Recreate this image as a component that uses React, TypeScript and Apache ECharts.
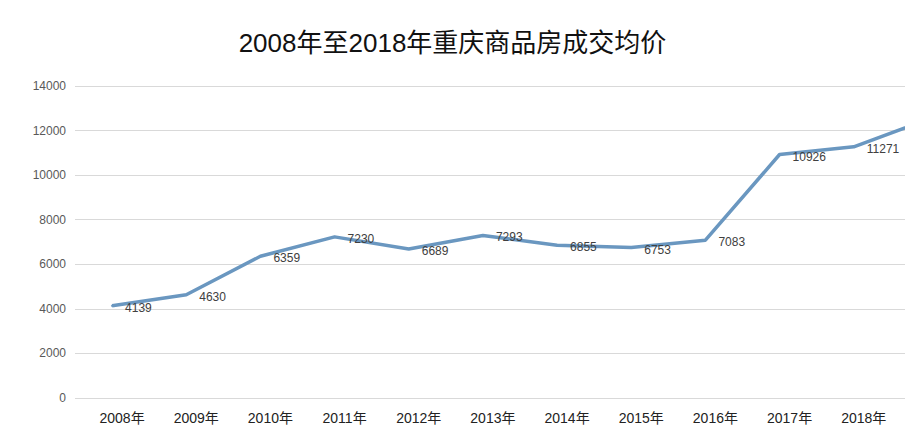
import React, { useEffect, useRef } from "react";
import * as echarts from "echarts";

const titleText = "2008年至2018年重庆商品房成交均价";
const categories = ["2008年", "2009年", "2010年", "2011年", "2012年", "2013年", "2014年", "2015年", "2016年", "2017年", "2018年", "2019年"];
const prices = [4139, 4630, 6359, 7230, 6689, 7293, 6855, 6753, 7083, 10926, 11271, 12500];
const visibleCount = 11;

export default function App() {
  const ref = useRef<HTMLDivElement>(null);
  useEffect(() => {
    if (!ref.current) return;
    const chart = echarts.init(ref.current, null, { renderer: "svg" });
    chart.setOption({
      animation: false,
      backgroundColor: "#ffffff",
      title: {
        text: titleText,
        left: "center",
        top: 30,
        textStyle: {
          fontSize: 26,
          fontWeight: "normal",
          color: "#111111",
          fontFamily: "'Liberation Sans', 'Noto Sans CJK SC', sans-serif",
        },
        padding: 0,
      },
      grid: {
        left: 75,
        width: 890,
        top: 86,
        bottom: 30,
        containLabel: false,
        outerBoundsMode: "none",
      },
      xAxis: {
        type: "category",
        data: categories,
        boundaryGap: true,
        axisLine: { show: false },
        axisTick: { show: false },
        axisLabel: {
          margin: 13,
          fontSize: 14,
          lineHeight: 14,
          color: "#222222",
          fontFamily: "'Liberation Sans', 'Noto Sans CJK SC', sans-serif",
          padding: [0, 0, 0, 20],
          interval: 0,
          formatter: (v: string, i: number) => (i < visibleCount ? v : ""),
        },
      },
      yAxis: {
        type: "value",
        min: 0,
        max: 14000,
        interval: 2000,
        axisLine: { show: false },
        axisTick: { show: false },
        axisLabel: {
          margin: 9,
          fontSize: 12,
          color: "#595959",
          fontFamily: "'Liberation Sans', sans-serif",
          formatter: (v: number) => String(v),
        },
        splitLine: { lineStyle: { color: "#d9d9d9", width: 1 } },
      },
      series: [
        {
          type: "line",
          data: prices,
          symbol: "circle",
          symbolSize: 2,
          showSymbol: true,
          showAllSymbol: true,
          itemStyle: { color: "#6a97c0" },
          lineStyle: { color: "#6a97c0", width: 3.5 },
          label: {
            show: true,
            position: "right",
            distance: 12,
            offset: [0, 2],
            fontSize: 12,
            color: "#404040",
            fontFamily: "'Liberation Sans', sans-serif",
            formatter: (p: any) => (p.dataIndex < visibleCount ? String(p.value) : ""),
          },
        },
      ],
    });
    return () => chart.dispose();
  }, []);
  return <div ref={ref} style={{ width: 905, height: 428, position: "absolute", left: 0, top: 0 }} />;
}
